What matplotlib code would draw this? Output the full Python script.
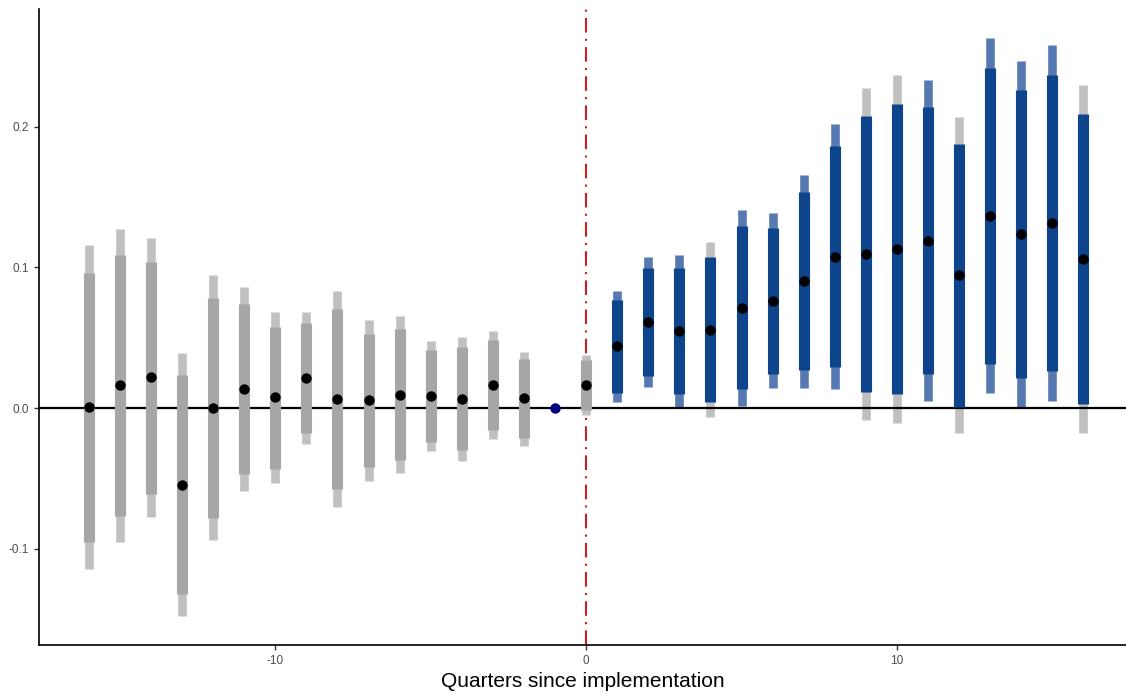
import numpy as np
import matplotlib
matplotlib.use("Agg")
import matplotlib.pyplot as plt

plt.rcParams.update({
    "font.family": ["Liberation Sans", "DejaVu Sans"],
    "axes.spines.top": False,
    "axes.spines.right": False,
    "axes.unicode_minus": False,
})

# ------------------------------------------------------------------ data
qtr = [-16, -15, -14, -13, -12, -11, -10, -9, -8, -7, -6, -5, -4, -3, -2,
       0, 1, 2, 3, 4, 5, 6, 7, 8, 9, 10, 11, 12, 13, 14, 15, 16]
est = [0.0005, 0.0161, 0.0218, -0.0545, 0.0002, 0.0133, 0.0076, 0.0216,
       0.0066, 0.0054, 0.0095, 0.0085, 0.0066, 0.0161, 0.0069,
       0.0161, 0.0438, 0.0611, 0.0550, 0.0557, 0.0713, 0.0760, 0.0900,
       0.1076, 0.1097, 0.1130, 0.1189, 0.0945, 0.1365, 0.1239, 0.1315,
       0.1059]
inner_lo = [-0.095, -0.0765, -0.0609, -0.1322, -0.0782, -0.0469, -0.0431,
            -0.0175, -0.0573, -0.0417, -0.0372, -0.0239, -0.0299, -0.0159,
            -0.0211,
            -0.0014, 0.0109, 0.0230, 0.0102, 0.0040, 0.0133, 0.0244, 0.0268,
            0.0291, 0.0114, 0.0100, 0.0242, 0.0010, 0.0313, 0.0211, 0.0265,
            0.0031]
inner_hi = [0.096, 0.1085, 0.104, 0.0235, 0.0784, 0.0737, 0.0578, 0.0605,
            0.0701, 0.0528, 0.0561, 0.0412, 0.0431, 0.0483, 0.0346,
            0.0341, 0.0765, 0.0993, 0.0997, 0.1073, 0.1291, 0.1277, 0.1533,
            0.1860, 0.2078, 0.2163, 0.2137, 0.1879, 0.2414, 0.2262, 0.2365,
            0.2090]
outer_lo = [-0.1144, -0.0955, -0.0772, -0.1478, -0.0938, -0.0590, -0.0531,
            -0.0253, -0.0701, -0.0516, -0.0464, -0.0303, -0.0374, -0.0223,
            -0.0268,
            -0.0052, 0.0043, 0.0152, 0.0010, -0.0062, 0.0016, 0.0140, 0.0140,
            0.0133, -0.0084, -0.0107, 0.0050, -0.0178, 0.0104, 0.0002, 0.0052,
            -0.0178]
outer_hi = [0.1156, 0.1270, 0.1210, 0.0391, 0.0943, 0.0858, 0.0682, 0.0681,
            0.0832, 0.0625, 0.0654, 0.0478, 0.0505, 0.0547, 0.0400,
            0.0377, 0.0832, 0.1071, 0.1087, 0.1178, 0.1410, 0.1384, 0.1658,
            0.2020, 0.2277, 0.2369, 0.2329, 0.2068, 0.2628, 0.2469, 0.2578,
            0.2296]
ref_qtr = -1
ref_est = 0.0

GRAY_OUT = "#c0c0c0"
GRAY_IN = "#a6a6a6"
BLUE_OUT = "#5579b0"
BLUE_IN = "#0e448c"

qtr = np.array(qtr)
inner_lo = np.array(inner_lo)
outer_lo = np.array(outer_lo)

fig = plt.figure(figsize=(11.26, 6.94), dpi=100)
ax = fig.add_axes([0.0344, 0.0706, 0.9656, 0.916])

# bars: blue when the interval sits above zero
out_col = [BLUE_OUT if lo > 0 else GRAY_OUT for lo in outer_lo]
in_col = [BLUE_IN if lo > 0 else GRAY_IN for lo in inner_lo]
ax.vlines(qtr, outer_lo, outer_hi, colors=out_col, lw=6.2, zorder=2,
          capstyle="butt")
ax.vlines(qtr, inner_lo, inner_hi, colors=in_col, lw=8.0, zorder=3,
          capstyle="butt")

ax.axhline(0, color="black", lw=1.6, zorder=2.5)
ax.axvline(0, color="#cc1f1f", lw=1.5, ls=(0, (7, 3, 1, 3)), zorder=1.5)

ax.plot(qtr, est, "o", color="black", ms=6.5, zorder=5)
ax.plot([ref_qtr], [ref_est], "o", color="#000080", ms=6.5, zorder=5)

ax.set_xlim(-17.61, 17.37)
ax.set_ylim(-0.1684, 0.2834)
ax.set_xticks([-10, 0, 10])
ax.set_yticks([-0.1, 0.0, 0.1, 0.2])
ax.set_yticklabels(["-0.1", "0.0", "0.1", "0.2"])
ax.tick_params(colors="#333333", labelcolor="#4d4d4d", labelsize=8.5,
               length=3.5, width=1.0)
for s in ("left", "bottom"):
    ax.spines[s].set_linewidth(1.2)
ax.set_xlabel("Quarters since implementation", fontsize=15, labelpad=4)

fig.savefig("out.png", dpi=100)
